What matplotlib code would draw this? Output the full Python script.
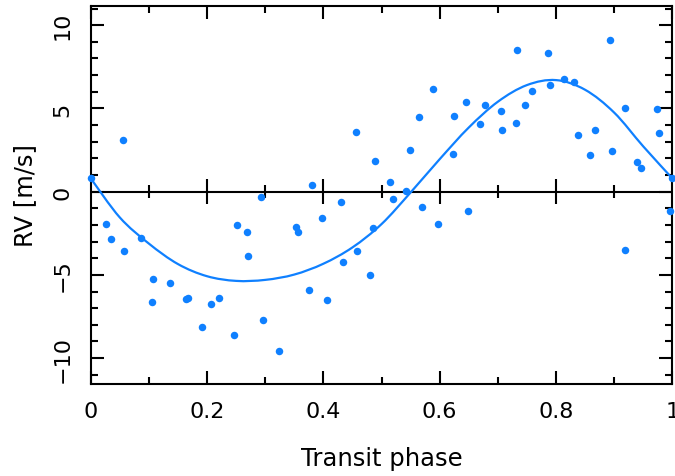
import matplotlib
matplotlib.use('Agg')
import matplotlib.pyplot as plt
from matplotlib.path import Path
from matplotlib.patches import PathPatch
import numpy as np

plt.rcParams['font.family'] = ['DejaVu Sans']

# 観測点（位相, 視線速度 m/s）
phase = [0.000, 0.026, 0.035, 0.056, 0.057, 0.087, 0.106, 0.107, 0.136, 0.164,
         0.168, 0.191, 0.206, 0.220, 0.246, 0.252, 0.269, 0.271, 0.293, 0.296,
         0.324, 0.353, 0.356, 0.375, 0.380, 0.397, 0.406, 0.431, 0.433, 0.456,
         0.458, 0.480, 0.486, 0.489, 0.515, 0.520, 0.542, 0.549, 0.564, 0.570,
         0.589, 0.597, 0.623, 0.625, 0.646, 0.648, 0.669, 0.678, 0.706, 0.707,
         0.731, 0.733, 0.746, 0.758, 0.786, 0.789, 0.813, 0.831, 0.838, 0.859,
         0.867, 0.893, 0.896, 0.918, 0.919, 0.939, 0.946, 0.974, 0.977, 0.996,
         1.000]
rv = [0.82, -1.92, -2.86, 3.12, -3.54, -2.80, -6.62, -5.22, -5.50, -6.46,
      -6.40, -8.14, -6.76, -6.38, -8.59, -2.02, -2.44, -3.88, -0.34, -7.72,
      -9.57, -2.14, -2.44, -5.90, 0.42, -1.60, -6.50, -0.64, -4.20, 3.57,
      -3.54, -5.02, -2.20, 1.84, 0.56, -0.42, 0.03, 2.52, 4.47, -0.90,
      6.19, -1.94, 2.28, 4.56, 5.39, -1.17, 4.05, 5.23, 4.87, 3.72,
      4.13, 8.53, 5.21, 6.07, 8.31, 6.39, 6.75, 6.61, 3.42, 2.22,
      3.69, 9.13, 2.43, 5.01, -3.52, 1.77, 1.41, 4.95, 3.51, -1.14,
      0.82]

# モデル曲線（図から読み取った値, 0.05 刻み）
model_phase = [0.00, 0.05, 0.10, 0.15, 0.20, 0.25, 0.30, 0.35, 0.40, 0.45, 0.50,
               0.55, 0.60, 0.65, 0.70, 0.75, 0.80, 0.85, 0.90, 0.95, 1.00]
model_rv = [0.80, -1.55, -3.12, -4.35, -5.08, -5.36, -5.30, -4.98, -4.33, -3.35, -1.95,
            -0.05, 1.95, 3.85, 5.40, 6.40, 6.70, 6.12, 4.75, 2.72, 0.80]

x_major = [0, 0.2, 0.4, 0.6, 0.8, 1]
x_minor = [0.1, 0.3, 0.5, 0.7, 0.9]
y_major = [-10, -5, 0, 5, 10]

blue = '#0f80ff'


def smooth_path(xs, ys):
    """読み取った点を通る滑らかな曲線（Catmull-Rom を Bezier で描く）。"""
    p = np.column_stack([xs, ys])
    p = np.vstack([p[0], p, p[-1]])
    verts = [p[1]]
    codes = [Path.MOVETO]
    for i in range(1, len(p) - 2):
        c1 = p[i] + (p[i + 1] - p[i - 1]) / 6
        c2 = p[i + 1] - (p[i + 2] - p[i]) / 6
        verts += [c1, c2, p[i + 1]]
        codes += [Path.CURVE4] * 3
    return Path(verts, codes)


fig = plt.figure(figsize=(6.75, 4.77), dpi=100)
ax = fig.add_axes([0.1344, 0.193, 0.8616, 0.793])

ax.add_patch(PathPatch(smooth_path(model_phase, model_rv), fill=False,
                       edgecolor=blue, lw=1.6, zorder=3))
ax.plot(phase, rv, 'o', color=blue, ms=5.4, mec='none', zorder=4, clip_on=False)

# y=0 の線と、その上の目盛り
ax.axhline(0, color='black', lw=1.5, zorder=2)
ax.vlines(x_major[1:-1], -0.75, 0.75, color='black', lw=1.5, zorder=2)
ax.vlines(x_minor, -0.4, 0.4, color='black', lw=1.5, zorder=2)

ax.set_xlim(0, 1)
ax.set_ylim(-11.55, 11.17)
ax.set_xticks(x_major)
ax.set_xticklabels(['0', '0.2', '0.4', '0.6', '0.8', '1'])
ax.set_xticks(x_minor, minor=True)
ax.set_yticks(y_major)
ax.set_yticklabels(['\u221210', '\u22125', '0', '5', '10'])
ax.set_yticks(np.arange(-11, 12, 1), minor=True)

ax.tick_params(which='both', direction='in', top=True, right=True, width=1.5, labelsize=16)
ax.tick_params(which='major', length=9.4)
ax.tick_params(which='minor', length=5)
ax.tick_params(axis='x', pad=12)
ax.tick_params(axis='y', pad=13)
plt.setp(ax.get_yticklabels(), rotation=90, va='center')
for s in ax.spines.values():
    s.set_linewidth(1.5)

ax.set_xlabel('Transit phase', fontsize=17.5)
ax.set_ylabel('RV [m/s]', fontsize=17.5)
ax.xaxis.set_label_coords(0.5, -0.165)
ax.yaxis.set_label_coords(-0.092, 0.5)

plt.savefig('out.png', dpi=100)
